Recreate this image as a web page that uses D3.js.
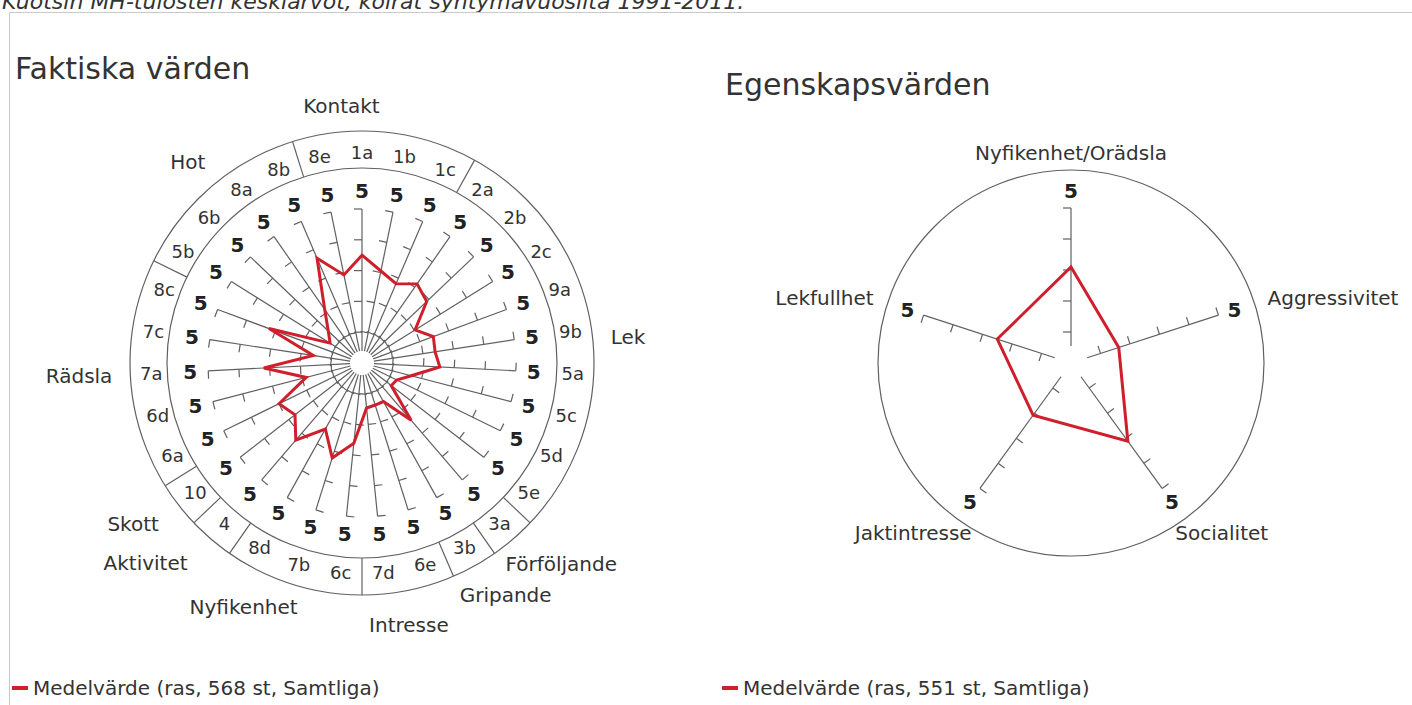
<!DOCTYPE html>
<html lang="sv">
<head>
<meta charset="UTF-8">
<title>MH - medelvärden</title>
<script src="https://d3js.org/d3.v7.min.js"></script>
<style>
    body { margin: 0; background: #fff; }
    svg { display: block; font-family: "DejaVu Sans", Verdana, sans-serif; }
    svg text { fill: #333; }
</style>
</head>
<body>
<svg id="chart" width="1412" height="705"></svg>
<script>
// --- data: left chart (faktiska värden), clockwise from the top ---
const facts = ["1a", "1b", "1c", "2a", "2b", "2c", "9a", "9b", "5a", "5c", "5d", "5e", "3a", "3b", "6e", "7d",
               "6c", "7b", "8d", "4", "10", "6a", "6d", "7a", "7c", "8c", "5b", "6b", "8a", "8b", "8e"];
const factValues = [3.5, 3.05, 2.8, 3.13, 2.9, 2.03, 2.47, 2.4, 2.53, 1.65, 1.25, 1.2, 2.45, 1.43, 1.43, 1.47,
                    2.62, 3.23, 2.45, 3.3, 2.75, 3.0, 1.87, 3.19, 1.6, 3.22, 1.22, 1.51, 2.12, 3.7, 2.92];
const factGroups = ["Kontakt", "Kontakt", "Kontakt", "Lek", "Lek", "Lek", "Lek", "Lek", "Lek", "Lek", "Lek", "Lek",
                    "Förföljande", "Gripande", "Intresse", "Intresse", "Nyfikenhet", "Nyfikenhet", "Nyfikenhet",
                    "Aktivitet", "Skott", "Rädsla", "Rädsla", "Rädsla", "Rädsla", "Rädsla",
                    "Hot", "Hot", "Hot", "Hot", "Kontakt"];

// --- data: right chart (egenskapsvärden) ---
const traits = ["Nyfikenhet/Orädsla", "Aggressivitet", "Socialitet", "Jaktintresse", "Lekfullhet"];
const traitValues = [3.1, 1.62, 3.12, 2.08, 2.5];

const scaleMax = 5;
const titles = ["Faktiska värden", "Egenskapsvärden"];
const legendTexts = ["Medelvärde (ras, 568 st, Samtliga)", "Medelvärde (ras, 551 st, Samtliga)"];
const caption = "Kuotsin MH-tulosten keskiarvot, koirat syntymävuosilta 1991-2011.";

const red = "#cf1f2c";
const grey = "#606060";
const svg = d3.select("#chart");

// caption of the page, mostly above the window
svg.append("text")
    .attr("x", 2).attr("y", 9)
    .attr("font-size", 22).attr("font-style", "italic")
    .text(caption);

svg.append("path")
    .attr("d", "M9.5,705V12.5H1412")
    .attr("fill", "none").attr("stroke", "#c9c9c9");

// put a label outside a circle, pushed out by its own box
function placeOut(sel, a, R, h) {
    const w = sel.node().getComputedTextLength();
    sel.attr("text-anchor", "middle")
        .attr("dominant-baseline", "central")
        .attr("x", R * Math.sin(a) + Math.sin(a) * w / 2)
        .attr("y", -R * Math.cos(a) - Math.cos(a) * h / 2);
}

function radar(cx, cy, labels, values, o) {
    const g = svg.append("g").attr("transform", `translate(${cx},${cy})`);
    const n = labels.length;
    const angle = d3.scaleLinear().domain([0, n]).range([0, 2 * Math.PI]);
    const r = d3.scaleLinear().domain([0, scaleMax]).range([0, o.rMax]);
    const ticks = r.ticks(scaleMax).filter(t => t > 0);
    const tickLen = 8;

    labels.forEach((lab, i) => {
        const a = angle(i), s = Math.sin(a), c = Math.cos(a);
        g.append("line")
            .attr("x1", o.hole * s).attr("y1", -o.hole * c)
            .attr("x2", r(scaleMax) * s).attr("y2", -r(scaleMax) * c)
            .attr("stroke", grey).attr("stroke-width", 1.2);
        // ticks on the counter-clockwise side
        g.selectAll(null).data(ticks).join("line")
            .attr("x1", t => r(t) * s).attr("y1", t => -r(t) * c)
            .attr("x2", t => r(t) * s - tickLen * c).attr("y2", t => -r(t) * c - tickLen * s)
            .attr("stroke", grey).attr("stroke-width", 1.2);
        const five = g.append("text")
            .attr("font-size", 20).attr("font-weight", "bold")
            .style("fill", "#222")
            .text(scaleMax);
        placeOut(five, a, o.fiveR, 14);
    });

    const line = d3.lineRadial()
        .angle((d, i) => angle(i))
        .radius(d => r(d))
        .curve(d3.curveLinearClosed);

    g.append("path")
        .attr("d", line(values))
        .attr("fill", "none")
        .attr("stroke", red)
        .attr("stroke-width", 3);

    return {g, angle};
}

// ---------- left chart ----------
const L = radar(362, 363, facts, factValues, {rMax: 154, hole: 12, fiveR: 165});
const ringIn = 195, ringOut = 232;

L.g.selectAll("circle.ring").data([ringIn, ringOut]).join("circle")
    .attr("r", d => d).attr("fill", "none").attr("stroke", grey).attr("stroke-width", 1.2);

// white hole where the spokes meet
L.g.append("circle").attr("r", 11).attr("fill", "#fff");

facts.forEach((f, i) => {
    const a = L.angle(i);
    L.g.append("text")
        .attr("font-size", 18)
        .attr("text-anchor", "middle").attr("dominant-baseline", "central")
        .attr("x", 211 * Math.sin(a)).attr("y", -211 * Math.cos(a))
        .text(f);
    const next = (i + 1) % facts.length;
    if (factGroups[next] !== factGroups[i]) {
        const b = L.angle(i + 0.5);
        L.g.append("line")
            .attr("x1", ringIn * Math.sin(b)).attr("y1", -ringIn * Math.cos(b))
            .attr("x2", ringOut * Math.sin(b)).attr("y2", -ringOut * Math.cos(b))
            .attr("stroke", grey).attr("stroke-width", 1.2);
    }
});

// group names, at the mean angle of their items (a few moved a little: [degrees, px])
const groupNames = Array.from(new Set(factGroups));
const nudge = {Kontakt: [-10, -7], Lek: [3, 0], Intresse: [2.3, 0], Nyfikenhet: [5.5, 0],
               Aktivitet: [4, 16], Skott: [1.5, 8]};
groupNames.forEach(name => {
    const idx = factGroups.map((gname, i) => gname === name ? i : null).filter(i => i !== null);
    // unwrap indices around the top
    const unwrapped = idx.map(i => (idx.includes(0) && i > facts.length / 2) ? i - facts.length : i);
    const [da, dr] = nudge[name] || [0, 0];
    const a = L.angle(d3.mean(unwrapped)) + da * Math.PI / 180;
    const t = L.g.append("text").attr("font-size", 20).text(name);
    placeOut(t, a, 250 + dr, 30);
});

// ---------- right chart ----------
const R = radar(1071, 363, traits, traitValues, {rMax: 155, hole: 17, fiveR: 165});
R.g.append("circle").attr("r", 193).attr("fill", "none").attr("stroke", grey).attr("stroke-width", 1.2);
traits.forEach((t, i) => {
    const lab = R.g.append("text").attr("font-size", 20).text(t);
    placeOut(lab, R.angle(i), 210, 0);
});

// ---------- titles and legends ----------
svg.selectAll("text.title").data(titles).join("text")
    .attr("x", (d, i) => i === 0 ? 15 : 725)
    .attr("y", (d, i) => i === 0 ? 79 : 95)
    .attr("font-size", 30)
    .text(d => d);

const legend = svg.selectAll("g.legend").data(legendTexts).join("g")
    .attr("transform", (d, i) => `translate(${i === 0 ? 12 : 722},688)`);
legend.append("line")
    .attr("x1", 0).attr("x2", 16)
    .attr("stroke", red).attr("stroke-width", 4);
legend.append("text")
    .attr("x", 21).attr("dominant-baseline", "central")
    .attr("font-size", 20)
    .text(d => d);
</script>
</body>
</html>
